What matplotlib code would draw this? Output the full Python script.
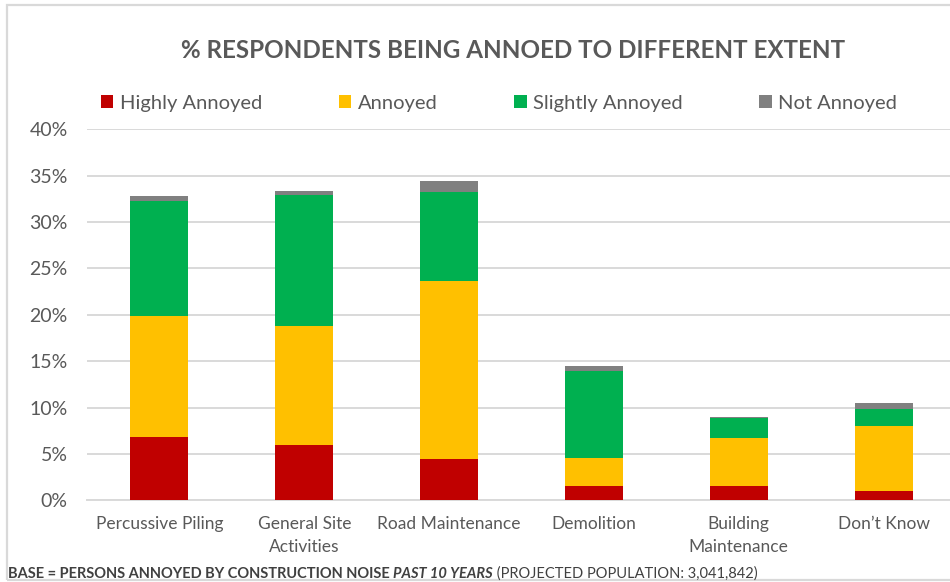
import numpy as np
from matplotlib import pyplot as plt
from matplotlib.patches import Rectangle

plt.rcParams['font.family'] = ['Lato', 'DejaVu Sans']

categories = ['Percussive Piling', 'General Site\nActivities', 'Road Maintenance',
              'Demolition', 'Building\nMaintenance', 'Don\u2019t Know']
series_names = ['Highly Annoyed', 'Annoyed', 'Slightly Annoyed', 'Not Annoyed']
highly_annoyed = [6.8, 6.0, 4.5, 1.5, 1.5, 0.95]
annoyed = [13.1, 12.8, 19.1, 3.1, 5.25, 7.1]
slightly_annoyed = [12.4, 14.1, 9.65, 9.3, 2.1, 1.75]
not_annoyed = [0.55, 0.4, 1.15, 0.6, 0.1, 0.7]
y_ticks = [0, 5, 10, 15, 20, 25, 30, 35, 40]

COLORS = ['#C00000', '#FFC000', '#00B050', '#808080']
TEXT = '#595959'

fig = plt.figure(figsize=(9.5, 5.82), dpi=100)

# chart border (cut off on the right, like the screenshot)
fig.add_artist(Rectangle((7 / 950, 1 - 580 / 582), 1.2, (580 - 5) / 582,
                         transform=fig.transFigure, fill=False,
                         edgecolor='#d9d9d9', linewidth=1.6))

ax = fig.add_axes([87 / 950, 1 - 500.3 / 582, (956 - 87) / 950, (500.3 - 129.3) / 582])

x = np.arange(len(categories))
bottom = np.zeros(len(categories))
for name, vals, col in zip(series_names,
                           [highly_annoyed, annoyed, slightly_annoyed, not_annoyed],
                           COLORS):
    ax.bar(x, vals, width=0.4, bottom=bottom, color=col, label=name, zorder=3)
    bottom += np.array(vals)

ax.set_xlim(-0.5, len(categories) - 0.5)
ax.set_ylim(0, 40)
ax.set_yticks(y_ticks)
ax.set_yticklabels([f'{t}%' for t in y_ticks])
ax.set_xticks(x)
ax.set_xticklabels(categories, linespacing=1.6)
ax.tick_params(axis='y', length=0, pad=14, labelsize=14, labelcolor=TEXT)
ax.tick_params(axis='x', length=0, pad=11, labelsize=12.5, labelcolor=TEXT)
ax.grid(axis='y', color='#d9d9d9', linewidth=1.4, zorder=0)
ax.set_axisbelow(True)
for s in ['top', 'right', 'left']:
    ax.spines[s].set_visible(False)
ax.spines['bottom'].set_color('#d9d9d9')
ax.spines['bottom'].set_linewidth(1.4)

fig.text(513 / 950, 1 - 51 / 582, '% RESPONDENTS BEING ANNOED TO DIFFERENT EXTENT',
         ha='center', va='center', fontsize=17.4, fontweight='bold', color=TEXT)

leg = fig.legend(loc='center', bbox_to_anchor=(499 / 950, 1 - 103 / 582), ncol=4,
                 frameon=False, fontsize=14.5, handlelength=0.62, handleheight=0.62,
                 handletextpad=0.33, columnspacing=3.8, labelcolor=TEXT)

# footnote, built from three pieces
fs = 10.55
t1 = fig.text(8 / 950, 1 - 578 / 582, 'BASE = PERSONS ANNOYED BY CONSTRUCTION NOISE ',
              ha='left', va='baseline', fontsize=fs, fontweight='bold', color='#404040')
t2 = fig.text(0, 0, 'PAST 10 YEARS', fontsize=fs, fontweight='bold', fontstyle='italic',
              color='#404040', ha='left', va='baseline')
t3 = fig.text(0, 0, ' (PROJECTED POPULATION: 3,041,842)', fontsize=fs, color='#404040',
              ha='left', va='baseline')
fig.canvas.draw()
r = fig.canvas.get_renderer()
bb = t1.get_window_extent(r)
t2.set_position((bb.x1 / fig.bbox.width, 1 - 578 / 582))
fig.canvas.draw()
bb = t2.get_window_extent(r)
t3.set_position((bb.x1 / fig.bbox.width, 1 - 578 / 582))

plt.savefig('out.png', dpi=100)
